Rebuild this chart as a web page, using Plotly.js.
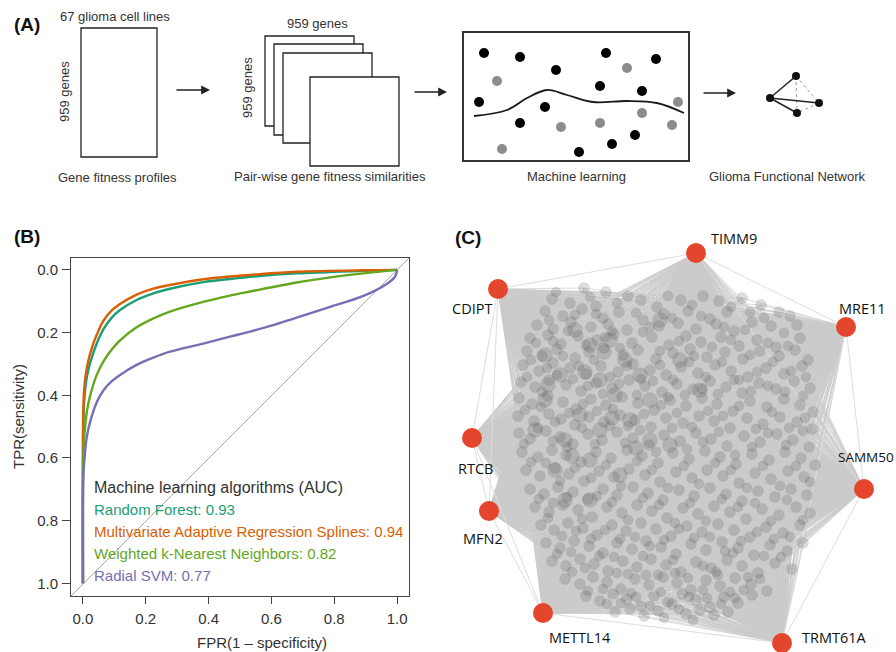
<!DOCTYPE html>
<html><head><meta charset="utf-8">
<script src="https://cdn.plot.ly/plotly-3.0.1.min.js"></script>
<style>html,body{margin:0;padding:0;background:#fff}#chart{width:896px;height:652px}</style>
</head><body><div id="chart"></div>
<script>
// ---------- Panel B: ROC data ----------
const algoNames = ['Random Forest', 'Multivariate Adaptive Regression Splines', 'Weighted k-Nearest Neighbors', 'Radial SVM'];
const aucValues = ['0.93', '0.94', '0.82', '0.77'];
const algoColors = ['#1b9e77', '#d95f02', '#66a61e', '#7570b3'];
const tickVals = [0, 0.2, 0.4, 0.6, 0.8, 1.0];
const tickLabels = ['0.0', '0.2', '0.4', '0.6', '0.8', '1.0'];

const rfX   = [0, 0, 0.001, 0.004, 0.0096, 0.017, 0.028, 0.044, 0.065, 0.091, 0.118, 0.171, 0.224, 0.277, 0.383, 0.468, 0.532, 0.68, 0.893, 1.0];
const rfY   = [1, 0.64, 0.50, 0.42, 0.36, 0.32, 0.28, 0.235, 0.19, 0.153, 0.128, 0.096, 0.075, 0.06, 0.039, 0.029, 0.022, 0.011, 0.003, 0];
const marsX = [0, 0, 0.001, 0.004, 0.0096, 0.017, 0.028, 0.044, 0.065, 0.091, 0.118, 0.171, 0.224, 0.277, 0.383, 0.468, 0.532, 0.68, 0.893, 1.0];
const marsY = [1, 0.62, 0.45, 0.38, 0.33, 0.29, 0.25, 0.207, 0.163, 0.13, 0.109, 0.079, 0.06, 0.048, 0.03, 0.021, 0.016, 0.006, 0.001, 0];
const knnX  = [0, 0, 0.002, 0.006, 0.012, 0.022, 0.044, 0.065, 0.091, 0.118, 0.171, 0.224, 0.277, 0.383, 0.468, 0.532, 0.68, 0.787, 0.893, 1.0];
const knnY  = [1, 0.66, 0.57, 0.51, 0.455, 0.405, 0.335, 0.293, 0.255, 0.225, 0.183, 0.155, 0.133, 0.102, 0.082, 0.069, 0.04, 0.024, 0.011, 0];
const svmX  = [0, 0, 0.002, 0.006, 0.012, 0.022, 0.044, 0.065, 0.091, 0.118, 0.171, 0.224, 0.277, 0.383, 0.468, 0.532, 0.6, 0.68, 0.787, 0.893, 0.967, 0.994, 1.0];
const svmY  = [1, 0.70, 0.64, 0.59, 0.535, 0.488, 0.422, 0.385, 0.356, 0.335, 0.303, 0.28, 0.261, 0.235, 0.213, 0.197, 0.178, 0.152, 0.118, 0.083, 0.045, 0.021, 0];

// ---------- Panel A: schematic data (pixel space) ----------
const mlBlackX = [484, 520, 556, 606, 656, 600, 642, 479, 545, 520, 635, 612, 579];
const mlBlackY = [53, 57, 70, 53, 59, 86, 91, 102, 107, 123, 135, 144, 152];
const mlGrayX  = [497, 627, 678, 642, 561, 600, 672, 502];
const mlGrayY  = [81, 68, 102, 113, 127, 123, 125, 149];
const mlCurveX = [474, 507, 527, 547, 567, 593, 627, 657, 684];
const mlCurveY = [116, 110, 98, 90, 95, 102, 101, 103, 113];
const miniNodeX = [796, 770, 819, 797];
const miniNodeY = [76, 98, 103, 113];
const miniSolid = [[1, 0], [1, 2], [1, 3]];
const miniDashed = [[0, 3], [0, 2], [2, 3]];

// ---------- Panel C: network data (pixel space) ----------
const hubNames = ['TIMM9', 'CDIPT', 'MRE11', 'RTCB', 'SAMM50', 'MFN2', 'METTL14', 'TRMT61A'];
const hubX = [696, 498, 846, 472, 864, 489, 543, 782];
const hubY = [253, 289, 327, 438, 489, 511, 613, 643];
const hubEdges = [[1,0],[0,2],[2,4],[4,7],[7,6],[6,5],[5,3],[3,1],[1,5],[3,6],[2,7],[0,4]];
const cloudCenter = [665, 450];
const cloudNodes = [
 [584,288],[606,292],[641,300],[703,296],[719,301],[552,299],[570,303],[596,306],[628,296],[657,307],[681,300],[742,298],[779,312],[761,305],
 [545,311],[563,316],[582,309],[603,318],[619,312],[643,320],[664,314],[688,311],[710,319],[727,312],[752,322],[790,316],[537,325],[553,329],[571,322],[591,327],[608,324],[627,330],[659,326],[678,323],[696,329],[716,324],[734,331],[771,326],[797,325],
 [530,338],[548,335],[561,344],[578,336],[597,340],[614,334],[632,343],[652,337],[669,345],[686,336],[701,342],[721,337],[739,346],[757,340],[776,347],[800,338],[527,351],[542,356],[557,349],[575,358],[589,352],[604,348],[623,355],[638,350],[656,359],[673,353],[690,349],[707,357],[725,352],[743,359],[760,351],[779,356],[795,350],[808,360],
 [523,365],[539,371],[553,363],[570,368],[586,374],[601,366],[618,372],[633,364],[650,370],[666,375],[681,367],[698,373],[715,365],[731,371],[748,377],[766,368],[784,374],[802,366],[521,382],[535,387],[549,380],[566,385],[581,391],[596,383],[612,388],[629,380],[645,386],[662,392],[677,384],[693,389],[710,381],[726,387],[742,393],[759,383],[776,389],[794,381],[810,388],
 [519,398],[532,404],[548,396],[563,402],[576,409],[591,399],[606,405],[622,397],[638,403],[654,410],[670,400],[686,406],[702,398],[717,404],[733,411],[750,401],[767,407],[784,399],[800,405],[813,412],[518,416],[534,421],[549,414],[561,419],[575,425],[589,417],[604,422],[620,415],[635,420],[651,427],[666,418],[683,423],[699,416],[714,421],[730,428],[747,418],[763,424],[780,417],[797,422],[812,429],
 [519,433],[530,439],[546,431],[560,437],[573,444],[588,434],[602,440],[617,432],[633,438],[649,445],[664,435],[680,441],[696,433],[711,439],[727,446],[744,436],[760,442],[777,434],[793,440],[809,447],[522,452],[538,457],[552,450],[566,455],[581,462],[596,452],[611,458],[627,450],[642,456],[658,463],[673,453],[689,459],[705,451],[720,457],[736,464],[752,454],[769,460],[785,452],[801,458],[815,465],
 [526,470],[540,476],[555,468],[569,474],[584,481],[599,471],[614,477],[629,469],[645,475],[660,482],[676,472],[692,478],[707,470],[723,476],[739,483],[755,473],[771,479],[788,471],[804,477],[530,489],[544,494],[558,487],[573,492],[588,499],[603,489],[617,495],[633,487],[648,493],[663,500],[679,490],[694,496],[710,488],[726,494],[742,501],[758,491],[775,497],[791,489],[807,495],
 [535,507],[549,512],[563,505],[578,510],[592,517],[607,507],[622,513],[637,505],[652,511],[667,518],[683,508],[698,514],[714,506],[730,512],[746,519],[762,509],[779,515],[796,507],[810,513],[541,525],[554,530],[568,523],[583,528],[597,535],[612,525],[626,531],[641,523],[656,529],[671,536],[687,526],[702,532],[718,524],[734,530],[750,537],[766,527],[783,533],[800,525],
 [546,543],[560,548],[574,541],[589,546],[603,553],[617,543],[632,549],[646,541],[661,547],[676,554],[691,544],[706,550],[722,542],[738,548],[754,555],[770,545],[787,551],[803,543],[552,561],[566,566],[580,559],[594,564],[608,571],[623,561],[637,567],[651,559],[666,565],[681,572],[696,562],[711,568],[727,560],[742,566],[758,573],[775,563],[792,569],
 [565,579],[580,584],[593,577],[607,582],[621,589],[635,579],[649,585],[663,577],[677,583],[691,590],[706,580],[720,586],[735,578],[751,584],[767,591],[586,596],[600,601],[613,594],[627,599],[641,606],[654,596],[668,602],[682,594],[696,600],[710,607],[724,597],[738,603],[752,595],[615,612],[630,609],[644,616],[658,611],[672,604],[686,614],[700,610],[714,615],[728,612]
];
const cloudNodes2 = [
 [556,292],[590,297],[617,303],[668,296],[692,305],[731,307],[750,312],
 [549,320],[575,315],[596,314],[612,331],[636,313],[650,327],[672,318],[701,316],[724,327],[745,330],[764,318],[784,333],
 [536,343],[553,341],[568,331],[586,345],[605,337],[620,348],[643,332],[660,351],[679,341],[694,356],[712,347],[731,340],[750,355],[768,343],[788,346],
 [531,360],[547,368],[563,356],[579,366],[594,360],[610,377],[627,366],[641,379],[660,365],[673,380],[689,362],[706,377],[722,362],[739,380],[757,372],[773,362],[791,371],[806,377],
 [527,377],[542,392],[557,375],[573,379],[588,386],[603,394],[619,384],[637,395],[653,381],[668,397],[685,395],[702,389],[718,394],[734,380],[751,391],[768,386],[785,392],[803,396],
 [525,410],[541,407],[555,422],[569,413],[583,404],[597,411],[613,409],[628,426],[644,414],[661,405],[677,413],[692,427],[708,411],[723,416],[739,406],[756,429],[772,412],[789,428],[805,418],
 [524,444],[538,428],[553,441],[567,447],[582,428],[595,444],[610,426],[625,443],[640,430],[656,452],[672,428],[687,449],[703,442],[719,432],[735,455],[752,447],[768,433],[786,445],[803,431],
 [531,462],[546,463],[560,481],[575,468],[591,478],[606,465],[621,486],[637,461],[652,470],[668,488],[684,466],[699,484],[715,463],[731,470],[747,488],[763,466],[780,486],[796,466],[810,482],
 [539,499],[553,503],[567,497],[582,519],[597,496],[612,502],[628,520],[643,498],[659,505],[675,523],[690,503],[706,521],[722,499],[738,507],[755,503],[771,521],[787,500],[803,520],
 [548,518],[562,536],[576,531],[591,539],[605,530],[620,539],[635,537],[650,546],[664,540],[679,529],[694,538],[710,537],[725,551],[741,541],[757,532],[774,539],[790,537],
 [557,554],[571,552],[585,568],[599,556],[614,557],[628,574],[643,556],[658,575],[673,560],[688,578],[703,566],[718,575],[733,553],[748,577],[764,556],[781,557],
 [572,572],[588,591],[603,589],[617,573],[631,593],[646,575],[661,592],[675,573],[689,597],[703,590],[716,572],[730,592],[744,590],[760,579],
 [607,604],[621,603],[636,597],[650,606],[664,618],[679,609],[693,620],[707,598],[721,604],[735,598]
];
const bigNodes = [
 [575,330],[590,345],[560,375],[600,380],[625,360],[545,400],[580,415],[615,395],[640,375],[565,440],[600,430],[630,420],[555,470],
 [590,460],[620,475],[650,440],[535,430],[650,400],[610,340],[680,360],[660,320],[545,355],[700,390],[670,445],[590,500],[565,500],
 [585,372],[612,418],[572,456],[548,385],[636,448],[604,352]
];

// ---------- build traces ----------
const fontMain = 'Liberation Sans, Arial, Helvetica, sans-serif';
const traces = [];
const rocX = [rfX, marsX, knnX, svmX];
const rocY = [rfY, marsY, knnY, svmY];
for (let i = 0; i < 4; i++) {
  traces.push({x: rocX[i], y: rocY[i], type: 'scatter', mode: 'lines', xaxis: 'x', yaxis: 'y',
    line: {color: algoColors[i], width: 2.4, shape: 'spline', smoothing: 1}, hoverinfo: 'skip'});
}

// fan edges: each hub to the gene nodes lying in its wedge facing the cloud
const allNodes = cloudNodes.concat(cloudNodes2);
const fanX = [], fanY = [];
const WEDGE = 54 * Math.PI / 180;
for (let h = 0; h < hubX.length; h++) {
  const cx = cloudCenter[0] - hubX[h], cy = cloudCenter[1] - hubY[h];
  const cl = Math.hypot(cx, cy);
  for (const n of allNodes) {
    const dx = n[0] - hubX[h], dy = n[1] - hubY[h];
    const cosA = (dx * cx + dy * cy) / (Math.hypot(dx, dy) * cl);
    if (cosA >= Math.cos(WEDGE)) { fanX.push(hubX[h], n[0], null); fanY.push(hubY[h], n[1], null); }
  }
}
traces.push({x: fanX, y: fanY, type: 'scatter', mode: 'lines', xaxis: 'x2', yaxis: 'y2',
  line: {color: '#cbcbcb', width: 0.7}, hoverinfo: 'skip'});
const heX = [], heY = [];
for (const e of hubEdges) { heX.push(hubX[e[0]], hubX[e[1]], null); heY.push(hubY[e[0]], hubY[e[1]], null); }
traces.push({x: heX, y: heY, type: 'scatter', mode: 'lines', xaxis: 'x2', yaxis: 'y2',
  line: {color: '#dddddd', width: 1}, hoverinfo: 'skip'});
const nodeStyle = s => ({size: s, color: 'rgba(65,65,65,0.18)', line: {width: 0.5, color: 'rgba(110,110,110,0.22)'}});
traces.push({x: cloudNodes.map(n => n[0]), y: cloudNodes.map(n => n[1]), type: 'scatter', mode: 'markers',
  xaxis: 'x2', yaxis: 'y2', marker: nodeStyle(11), hoverinfo: 'skip'});
traces.push({x: cloudNodes2.map(n => n[0]), y: cloudNodes2.map(n => n[1]), type: 'scatter', mode: 'markers',
  xaxis: 'x2', yaxis: 'y2', marker: nodeStyle(10), hoverinfo: 'skip'});
traces.push({x: bigNodes.map(n => n[0]), y: bigNodes.map(n => n[1]), type: 'scatter', mode: 'markers',
  xaxis: 'x2', yaxis: 'y2', marker: nodeStyle(15), hoverinfo: 'skip'});
traces.push({x: hubX, y: hubY, type: 'scatter', mode: 'markers', xaxis: 'x2', yaxis: 'y2',
  marker: {size: 20, color: '#e4462d'}, hoverinfo: 'skip'});

// panel A machine learning box content
traces.push({x: mlCurveX, y: mlCurveY, type: 'scatter', mode: 'lines', xaxis: 'x2', yaxis: 'y2',
  line: {color: '#1a1a1a', width: 1.8, shape: 'spline', smoothing: 1}, hoverinfo: 'skip'});
traces.push({x: mlBlackX, y: mlBlackY, type: 'scatter', mode: 'markers', xaxis: 'x2', yaxis: 'y2',
  marker: {size: 10, color: '#000'}, hoverinfo: 'skip'});
traces.push({x: mlGrayX, y: mlGrayY, type: 'scatter', mode: 'markers', xaxis: 'x2', yaxis: 'y2',
  marker: {size: 10, color: '#8c8c8c'}, hoverinfo: 'skip'});
// mini network
const msX = [], msY = [], mdX = [], mdY = [];
for (const e of miniSolid) { msX.push(miniNodeX[e[0]], miniNodeX[e[1]], null); msY.push(miniNodeY[e[0]], miniNodeY[e[1]], null); }
for (const e of miniDashed) { mdX.push(miniNodeX[e[0]], miniNodeX[e[1]], null); mdY.push(miniNodeY[e[0]], miniNodeY[e[1]], null); }
traces.push({x: mdX, y: mdY, type: 'scatter', mode: 'lines', xaxis: 'x2', yaxis: 'y2',
  line: {color: '#999', width: 1, dash: 'dot'}, hoverinfo: 'skip'});
traces.push({x: msX, y: msY, type: 'scatter', mode: 'lines', xaxis: 'x2', yaxis: 'y2',
  line: {color: '#222', width: 1.5}, hoverinfo: 'skip'});
traces.push({x: miniNodeX, y: miniNodeY, type: 'scatter', mode: 'markers', xaxis: 'x2', yaxis: 'y2',
  marker: {size: 8, color: '#111'}, hoverinfo: 'skip'});

// ---------- layout ----------
const W = 896, H = 652;
const px = v => v / W, py = v => 1 - v / H;
const shapes = [
  {type: 'line', xref: 'x domain', yref: 'y domain', x0: 0, y0: 0, x1: 1, y1: 1, line: {color: '#aaaaaa', width: 1}, layer: 'below'},
  // panel A rectangles
  {type: 'rect', xref: 'x2', yref: 'y2', x0: 81, y0: 28, x1: 157, y1: 157, line: {color: '#222', width: 1.3}, fillcolor: '#fff'},
  {type: 'rect', xref: 'x2', yref: 'y2', x0: 265, y0: 36, x1: 354, y1: 126, line: {color: '#222', width: 1.3}, fillcolor: '#fff'},
  {type: 'rect', xref: 'x2', yref: 'y2', x0: 274, y0: 44, x1: 363, y1: 135, line: {color: '#222', width: 1.3}, fillcolor: '#fff'},
  {type: 'rect', xref: 'x2', yref: 'y2', x0: 283, y0: 53, x1: 372, y1: 143, line: {color: '#222', width: 1.3}, fillcolor: '#fff'},
  {type: 'rect', xref: 'x2', yref: 'y2', x0: 310, y0: 77, x1: 399, y1: 166, line: {color: '#222', width: 1.3}, fillcolor: '#fff'},
  {type: 'rect', xref: 'x2', yref: 'y2', x0: 463, y0: 32, x1: 689, y1: 161, line: {color: '#333', width: 2}, layer: 'below'}
];
const ann = [];
function txt(t, x, y, opts) {
  ann.push(Object.assign({text: t, x: x, y: y, xref: 'x2', yref: 'y2', showarrow: false,
    font: {family: fontMain, size: 13, color: '#333'}, xanchor: 'center', yanchor: 'middle'}, opts || {}));
}
// panel letters
txt('<b>(A)</b>', 27, 24, {font: {family: fontMain, size: 19, color: '#111'}});
txt('<b>(B)</b>', 27, 236, {font: {family: fontMain, size: 19, color: '#111'}});
txt('<b>(C)</b>', 468, 237, {font: {family: fontMain, size: 19, color: '#111'}});
// panel A text
txt('67 glioma cell lines', 115, 16);
txt('959 genes', 64, 92, {textangle: -90});
txt('Gene fitness profiles', 117, 177);
txt('959 genes', 317, 23);
txt('959 genes', 247, 88, {textangle: -90});
txt('Pair-wise gene fitness similarities', 330, 176);
txt('Machine learning', 576, 176);
txt('Glioma Functional Network', 787, 176);
// arrows
[[175, 210, 90], [413, 447, 92], [702, 736, 93]].forEach(a => {
  ann.push({x: a[1], y: a[2], ax: a[0], ay: a[2], xref: 'x2', yref: 'y2', axref: 'x2', ayref: 'y2', text: '',
    showarrow: true, arrowhead: 2, arrowsize: 1.1, arrowwidth: 1.6, arrowcolor: '#222'});
});
// panel C hub labels
const labFont = {family: 'Open Sans, Lato, sans-serif', size: 14.5, color: '#111'};
const hubLabelPos = [[709, 238, 'left'], [472, 308, 'center'], [862, 308, 'center'], [475, 468, 'center'],
                     [836, 457, 'left'], [483, 538, 'center'], [580, 637, 'center'], [800, 637, 'left']];
hubNames.forEach((n, i) => txt(n, hubLabelPos[i][0], hubLabelPos[i][1],
  {font: Object.assign({}, labFont, i === 4 ? {size: 13.5} : {}), xanchor: hubLabelPos[i][2]}));
// panel B legend text
ann.push({text: 'Machine learning algorithms (AUC)', x: px(92), y: py(487), xref: 'paper', yref: 'paper', showarrow: false,
  xanchor: 'left', yanchor: 'middle', font: {family: fontMain, size: 16, color: '#333'}});
algoNames.forEach((n, i) => ann.push({text: n + ': ' + aucValues[i], x: px(92), y: py(509 + i * 22.2), xref: 'paper', yref: 'paper',
  showarrow: false, xanchor: 'left', yanchor: 'middle', font: {family: fontMain, size: 15, color: algoColors[i]}}));
// axis titles
ann.push({text: 'TPR(sensitivity)', x: px(18), y: py(417), xref: 'paper', yref: 'paper', showarrow: false, textangle: -90,
  xanchor: 'center', yanchor: 'middle', font: {family: fontMain, size: 15, color: '#333'}});
ann.push({text: 'FPR(1 \u2013 specificity)', x: px(262), y: py(642), xref: 'paper', yref: 'paper', showarrow: false,
  xanchor: 'center', yanchor: 'middle', font: {family: fontMain, size: 15, color: '#333'}});

const axisCommon = {tickvals: tickVals, ticktext: tickLabels, ticks: 'outside', tickwidth: 1, tickcolor: '#444',
  showline: true, mirror: true, linecolor: '#444', linewidth: 1, showgrid: false, zeroline: false,
  tickfont: {family: fontMain, size: 15, color: '#333'}, fixedrange: true};
const layout = {
  width: W, height: H, margin: {l: 0, r: 0, t: 0, b: 0}, showlegend: false,
  paper_bgcolor: '#fff', plot_bgcolor: 'rgba(0,0,0,0)',
  xaxis: Object.assign({}, axisCommon, {domain: [px(71), px(409)], range: [-0.038, 1.038], anchor: 'y', ticklen: 7, ticklabelstandoff: 2}),
  yaxis: Object.assign({}, axisCommon, {domain: [py(596), py(258)], range: [1.0405, -0.038], anchor: 'x', ticklen: 8, ticklabelstandoff: 1}),
  xaxis2: {domain: [0, 1], range: [0, W], visible: false, anchor: 'y2', fixedrange: true},
  yaxis2: {domain: [0, 1], range: [H, 0], visible: false, anchor: 'x2', fixedrange: true},
  shapes: shapes, annotations: ann
};
Plotly.newPlot('chart', traces, layout, {displayModeBar: false, staticPlot: true});
</script></body></html>
